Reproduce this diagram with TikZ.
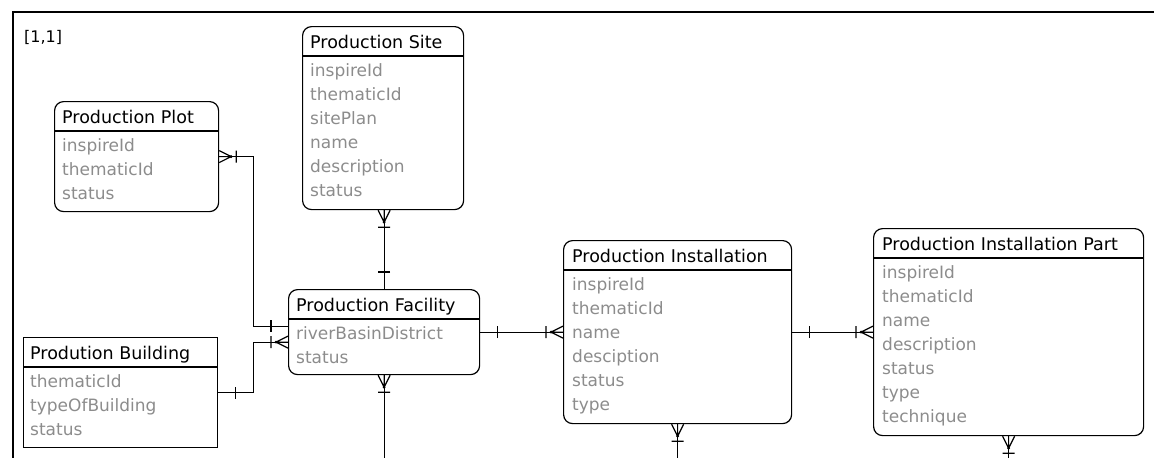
\documentclass[tikz,border=0pt]{standalone}
\usepackage{fontspec}
\setmainfont{DejaVu Sans}
\usepackage{xcolor}
\usepackage{tikz}

\definecolor{attrgray}{RGB}{140,140,140}

% relation ends at an entity edge, #2 = direction of the line leaving it
\newcommand{\relone}[2]{%
  \draw[rel, shift={(#1)}, rotate=#2] (17pt,-6pt) -- (17pt,6pt);}
\newcommand{\relmany}[2]{%
  \draw[rel, shift={(#1)}, rotate=#2] (0pt,-6pt) -- (12pt,0pt) -- (0pt,6pt) (0pt,0pt) -- (12pt,0pt) (17pt,-6pt) -- (17pt,6pt);
  \fill[shift={(#1)}, rotate=#2] (12pt,0pt) circle (1.6pt);}

\begin{document}
\begin{tikzpicture}[x=1pt, y=-1pt,
            entity/.style={draw, line width=1.2pt, rounded corners=9pt, anchor=north west, inner sep=0pt},
            title/.style={anchor=base west, inner sep=0pt, font=\fontsize{17.5}{20}\selectfont},
            attrs/.style={anchor=north west, inner sep=0pt, align=left, text=attrgray, font=\fontsize{17}{24}\selectfont},
            rel/.style={line width=1.2pt}
        ]
        \useasboundingbox (0,0) rectangle (1154,458);

        % Frame
        \draw[line width=2pt] (1154,12) -- (13,12) -- (13,458);
        \node[anchor=base west, inner sep=0pt, font=\fontsize{16}{18}\selectfont] (page) at (24,42) {[1,1]};

        % Entities
        \node[entity, minimum width=164pt, minimum height=110pt] (plot) at (54,101) {};
        \node[title] (plotT) at ([xshift=8pt, yshift=-22pt]plot.north west) {Production Plot};
        \node[attrs] (plotA) at ([xshift=8pt, yshift=-37pt]plot.north west) {inspireId\\thematicId\\status};
        \draw[rel] ([yshift=-30pt]plot.north west) -- ([yshift=-30pt]plot.north east);

        \node[entity, minimum width=161pt, minimum height=183pt] (site) at (302,26) {};
        \node[title] (siteT) at ([xshift=8pt, yshift=-22pt]site.north west) {Production Site};
        \node[attrs] (siteA) at ([xshift=8pt, yshift=-37pt]site.north west) {inspireId\\thematicId\\sitePlan\\name\\description\\status};
        \draw[rel] ([yshift=-30pt]site.north west) -- ([yshift=-30pt]site.north east);

        \node[entity, minimum width=191pt, minimum height=85pt] (fac) at (288,289) {};
        \node[title] (facT) at ([xshift=8pt, yshift=-22pt]fac.north west) {Production Facility};
        \node[attrs] (facA) at ([xshift=8pt, yshift=-37pt]fac.north west) {riverBasinDistrict\\status};
        \draw[rel] ([yshift=-30pt]fac.north west) -- ([yshift=-30pt]fac.north east);

        \node[entity, minimum width=228pt, minimum height=183pt] (inst) at (563,240) {};
        \node[title] (instT) at ([xshift=9pt, yshift=-22pt]inst.north west) {Production Installation};
        \node[attrs] (instA) at ([xshift=9pt, yshift=-37pt]inst.north west) {inspireId\\thematicId\\name\\desciption\\status\\type};
        \draw[rel] ([yshift=-30pt]inst.north west) -- ([yshift=-30pt]inst.north east);

        \node[entity, minimum width=270pt, minimum height=207pt] (part) at (873,228) {};
        \node[title] (partT) at ([xshift=9pt, yshift=-22pt]part.north west) {Production Installation Part};
        \node[attrs] (partA) at ([xshift=9pt, yshift=-37pt]part.north west) {inspireId\\thematicId\\name\\description\\status\\type\\technique};
        \draw[rel] ([yshift=-30pt]part.north west) -- ([yshift=-30pt]part.north east);

        \node[entity, rounded corners=0pt, minimum width=194pt, minimum height=110pt] (bldg) at (23,337) {};
        \node[title] (bldgT) at ([xshift=7pt, yshift=-22pt]bldg.north west) {Prodution Building};
        \node[attrs] (bldgA) at ([xshift=7pt, yshift=-37pt]bldg.north west) {thematicId\\typeOfBuilding\\status};
        \draw[rel] ([yshift=-30pt]bldg.north west) -- ([yshift=-30pt]bldg.north east);

        % Free ends below the page
        \coordinate (facEnd) at (fac.south |- 0,458);
        \coordinate (instEnd) at (inst.south |- 0,458);
        \coordinate (partEnd) at (part.south |- 0,458);

        % Relations
        \draw[rel] (plot.east) -- ++(34,0) |- ([yshift=6pt]fac.west);
        \draw[rel] (bldg.east) -- ++(35,0) |- ([yshift=-10pt]fac.west);
        \draw[rel] (fac.north) -- (fac.north |- site.south);
        \draw[rel] (fac.east) -- (inst.west);
        \draw[rel] (inst.east) -- (part.west);
        \draw[rel] (fac.south) -- (facEnd);
        \draw[rel] (inst.south) -- (instEnd);
        \draw[rel] (part.south) -- (partEnd);

        % Cardinality marks
        \relmany{plot.east}{0}
        \relone{[yshift=6pt]fac.west}{180}
        \relone{bldg.east}{0}
        \relmany{[yshift=-10pt]fac.west}{180}
        \relmany{fac.north |- site.south}{-90}
        \relone{fac.north}{90}
        \relone{fac.east}{0}
        \relmany{inst.west}{180}
        \relone{inst.east}{0}
        \relmany{part.west}{180}
        \relmany{fac.south}{-90}
        \relmany{inst.south}{-90}
        \relmany{part.south}{-90}

        \end{tikzpicture}
\end{document}
